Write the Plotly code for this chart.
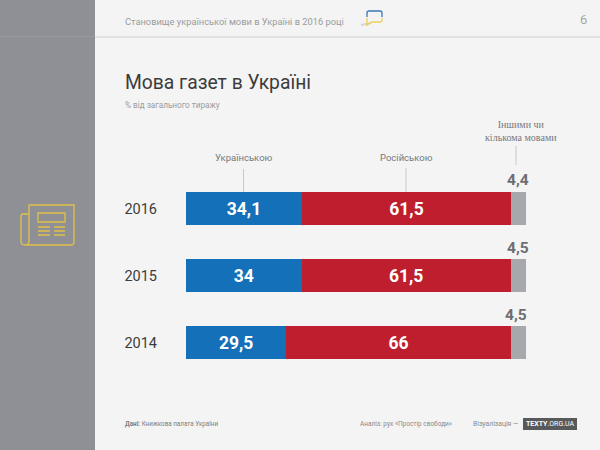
import plotly.graph_objects as go

W, H = 600, 450
FONT = "Roboto"

years = ["2016", "2015", "2014"]
ukr = [34.1, 34, 29.5]
rus = [61.5, 61.5, 66]
other = [4.4, 4.5, 4.5]
series_names = ["Українською", "Російською", "Іншими чи<br>кількома мовами"]

BLUE = "#1470b8"
RED = "#be1e2d"
GREY = "#a7a8ab"
YELLOW = "#e0c04a"


def px(x):
    return x / W


def py(y):
    return 1 - y / H


def lab(vals):
    return [str(v).replace(".", ",") for v in vals]


fig = go.Figure()
for name, vals, color in [(series_names[0], ukr, BLUE), (series_names[1], rus, RED)]:
    fig.add_trace(go.Bar(
        y=years, x=vals, name=name, orientation="h",
        marker=dict(color=color, line_width=0),
        text=lab(vals), textposition="inside", insidetextanchor="middle", textangle=0,
        textfont=dict(family=FONT, size=17.5, color="white", weight=700),
        hoverinfo="skip",
    ))
fig.add_trace(go.Bar(
    y=years, x=other, name=series_names[2], orientation="h",
    marker=dict(color=GREY, line_width=0), hoverinfo="skip",
))

shapes = []


def rect(x0, y0, x1, y1, fill=None, line=None, lw=1, layer="below"):
    shapes.append(dict(
        type="rect", xref="paper", yref="paper", layer=layer,
        x0=px(x0), x1=px(x1), y0=py(y0), y1=py(y1),
        fillcolor=fill if fill else "rgba(0,0,0,0)",
        line=dict(color=line, width=lw) if line else dict(width=0),
    ))


def seg(x0, y0, x1, y1, color, lw=1, layer="below"):
    shapes.append(dict(
        type="line", xref="paper", yref="paper", layer=layer,
        x0=px(x0), x1=px(x1), y0=py(y0), y1=py(y1),
        line=dict(color=color, width=lw),
    ))


def curve(cmds, color, lw=1.3):
    # cmds are (letter, x, y, ...) in window pixels
    parts = []
    for c in cmds:
        nums = c[1:]
        pts = [f"{px(nums[i])},{py(nums[i + 1])}" for i in range(0, len(nums), 2)]
        parts.append(c[0] + " " + " ".join(pts))
    shapes.append(dict(
        type="path", xref="paper", yref="paper", layer="below",
        path=" ".join(parts), line=dict(color=color, width=lw),
    ))


# sidebar and header rule
rect(0, 0, 95, 450, fill="#8f9095")
seg(0, 36.5, 95, 36.5, "#9a9b9f", 1)
seg(95, 37, 600, 37, "#dbdbdb", 1.5)

# logo bubble
seg(361, 25, 371, 23, "#d5d5d5", 2)
curve([("M", 367, 17), ("L", 367, 13), ("Q", 367, 11, 369, 11), ("L", 380, 11),
       ("Q", 382, 11, 382, 13), ("L", 382, 17)], "#3a78b5")
curve([("M", 382, 18), ("L", 382, 20), ("Q", 382, 22, 380, 22), ("L", 372, 22),
       ("L", 367, 25), ("L", 367, 18)], "#f0d050")

# newspaper icon
curve([("M", 29, 214), ("L", 23, 214), ("Q", 21, 214, 21, 216), ("L", 21, 241),
       ("Q", 21, 245, 25, 245), ("L", 71, 245), ("Q", 74, 245, 74, 242),
       ("L", 74, 205), ("L", 29, 205), ("L", 29, 241), ("Q", 29, 245, 25, 245)], YELLOW)
rect(38, 213, 65, 222, line=YELLOW, lw=1.3)
for yy in [227, 231, 235]:
    seg(38, yy, 50, yy, YELLOW, 1.5)
    seg(54, yy, 65, yy, YELLOW, 1.5)

# leader lines
seg(243.5, 169, 243.5, 192, "#c8c8c8", 1, layer="above")
seg(406, 168, 406, 192, "#c8c8c8", 1, layer="above")
seg(516, 146, 516, 165, "#c8c8c8", 1, layer="above")

# footer badge
rect(523, 418, 577, 430, fill="#58595b")

anns = []


def txt(x, y, s, size, color, anchor="left", family=FONT):
    anns.append(dict(
        xref="paper", yref="paper", x=px(x), y=py(y), text=s, showarrow=False,
        xanchor=anchor, yanchor="middle", align=anchor,
        font=dict(family=family, size=size, color=color),
    ))


txt(123, 22, "Становище української мови в Україні в 2016 році", 9.3, "#9b9b9b")
txt(583, 20, "6", 13, "#a8a8a8", "center")
txt(123, 82, "Мова газет в Україні", 19.3, "#3c3c3c")
txt(123, 105, "% від загального тиражу", 8.2, "#9b9b9b")
txt(243.5, 157, series_names[0], 9.5, "#77787b", "center")
txt(406, 157, series_names[1], 9.5, "#77787b", "center")
txt(521, 131.5, series_names[2], 10, "#77787b", "center", family="Liberation Sans Narrow")
txt(123, 424, "<b>Дані:</b> Книжкова палата України", 6.3, "#7d7d7d")
txt(358, 424, "Аналіз: рух «Простір свободи»", 6.5, "#8a8a8a")
txt(471, 424, "Візуалізація —", 6.8, "#8a8a8a")
txt(550, 424, "<b>TEXTY</b>.ORG.UA", 7, "white", "center")

# labels above the small grey segments, y is the category's serial number
for i, (yr, val, shift) in enumerate(zip(years, other, [-1, 0, -2])):
    anns.append(dict(
        xref="x", yref="y", x=100 - val / 2, y=len(years) - 1 - i, text=lab([val])[0], showarrow=False,
        xanchor="center", yanchor="middle", yshift=28, xshift=shift,
        font=dict(family=FONT, size=15.5, color="#6d6e71", weight=700),
    ))

fig.update_layout(
    width=W, height=H, margin=dict(l=0, r=0, t=0, b=0),
    paper_bgcolor="#f4f4f4", plot_bgcolor="rgba(0,0,0,0)",
    barmode="stack", bargap=0.5, showlegend=False,
    shapes=shapes, annotations=anns,
    xaxis=dict(domain=[px(186), px(526)], range=[0, 100], visible=False, fixedrange=True),
    yaxis=dict(
        type="category",
        domain=[py(376), py(175)], categoryorder="array", categoryarray=years[::-1],
        range=[-0.5, 2.5],
        showgrid=False, zeroline=False, showline=False, ticks="", fixedrange=True,
        ticklabelstandoff=28,
        tickfont=dict(family=FONT, size=14.5, color="#3c3c3c"),
    ),
)

# page body has a default margin, drop it so the chart fills the window
fig.write_html("out.html", config={"displayModeBar": False},
               post_script="document.body.style.margin='0';document.body.style.overflow='hidden';")
